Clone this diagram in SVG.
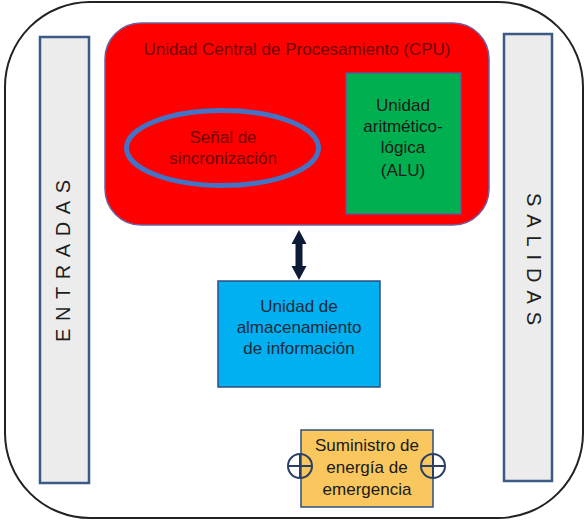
<svg xmlns="http://www.w3.org/2000/svg" width="588" height="525" viewBox="0 0 588 525">
<style>
text{font-family:"Liberation Sans",Arial,sans-serif;font-size:17px;text-anchor:middle}
.side{fill:#ececec;stroke:#3b5a86;stroke-width:2.5}
.vert{font-size:20px;fill:#1e1e1e}
.red{fill:#6e0606}
.dark{fill:#1e2a3a}
.plus{fill:none;stroke:#2b3f66;stroke-width:2}
</style>
<g id="frame">
<rect x="5" y="2" width="578" height="516" rx="85" ry="85" fill="#ffffff" stroke="#222222" stroke-width="2"/>
</g>
<g id="entradas">
<rect class="side" x="40" y="37" width="49" height="446"/>
<text class="vert" transform="translate(70,261) rotate(-90)" x="0" y="0" textLength="162" lengthAdjust="spacing">ENTRADAS</text>
</g>
<g id="salidas">
<rect class="side" x="504" y="34" width="48" height="447"/>
<text class="vert" transform="translate(527,259) rotate(90)" x="0" y="0" textLength="132" lengthAdjust="spacing">SALIDAS</text>
</g>
<g id="cpu">
<rect x="105" y="23" width="384" height="202" rx="36" ry="36" fill="#ff0000" stroke="#6f5f9f" stroke-width="1.5"/>
<text class="red" x="297" y="55">Unidad Central de Procesamiento (CPU)</text>
</g>
<g id="sync">
<ellipse cx="222.5" cy="148" rx="96" ry="37.5" fill="#ff0000" stroke="#4472c4" stroke-width="5"/>
<text class="red" x="223" y="143">Señal de</text>
<text class="red" x="223" y="164">sincronización</text>
</g>
<g id="alu">
<rect x="346" y="73" width="115" height="141" fill="#00b050" stroke="#5a5a9a" stroke-width="1.5"/>
<text x="403" y="111" fill="#1a1a1a">Unidad</text>
<text x="403" y="132" fill="#1a1a1a">aritmético-</text>
<text x="403" y="153" fill="#1a1a1a">lógica</text>
<text x="403" y="176" fill="#1a1a1a">(ALU)</text>
</g>
<g id="storage">
<rect x="218" y="281" width="162" height="106" fill="#00b0f0" stroke="#2f4f7f" stroke-width="1.5"/>
<text class="dark" x="299" y="312">Unidad de</text>
<text class="dark" x="299" y="333">almacenamiento</text>
<text class="dark" x="299" y="354">de información</text>
</g>
<g id="power">
<rect x="301" y="430" width="132" height="77" fill="#f9c75d" stroke="#2f4f7f" stroke-width="1.5"/>
<text x="367" y="451" fill="#1a1a1a">Suministro de</text>
<text x="367" y="473" fill="#1a1a1a">energía de</text>
<text x="367" y="495" fill="#1a1a1a">emergencia</text>
<circle class="plus" cx="300" cy="466" r="12"/>
<line class="plus" x1="288" y1="466" x2="312" y2="466"/>
<line class="plus" x1="300" y1="454" x2="300" y2="478"/>
<circle class="plus" cx="433" cy="466" r="12"/>
<line class="plus" x1="421" y1="466" x2="445" y2="466"/>
<line class="plus" x1="433" y1="454" x2="433" y2="478"/>
</g>
<g id="connectors">
<polygon points="299,230 306.5,244 302.5,244 302.5,266 306.5,266 299,280 291.5,266 295.5,266 295.5,244 291.5,244" fill="#0d1b36"/>
</g>
</svg>
